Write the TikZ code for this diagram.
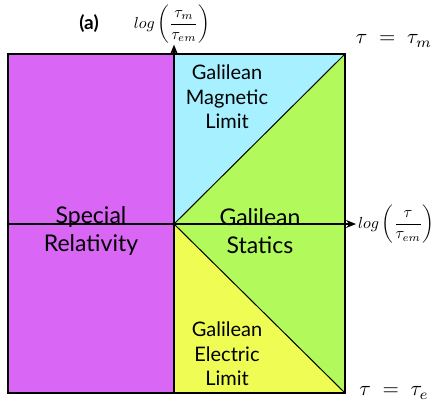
\documentclass[tikz,border=0pt]{standalone}
\usepackage{fontspec}
\setmainfont{Lato}
\usetikzlibrary{arrows.meta, positioning}
\definecolor{relpurple}{RGB}{218,102,246}
\definecolor{magcyan}{RGB}{166,240,255}
\definecolor{statgreen}{RGB}{178,250,92}
\definecolor{elecyellow}{RGB}{238,252,84}

\begin{document}
\begin{tikzpicture}[x=1pt, y=-1pt, >={Stealth[length=10pt,width=8pt]},
  axis/.style={->, line width=2.2pt},
  border/.style={draw=black, line width=1.2pt},
  regiontext/.style={align=center, font=\fontsize{20}{24.5}\selectfont},
  bigtext/.style={align=center, font=\fontsize{23}{28}\selectfont},
  mathlabel/.style={inner sep=0.5pt, scale=1.6},
  taulabel/.style={inner sep=0pt, scale=2.1}]
  \useasboundingbox (0,0) rectangle (436,408);
  % corners and axes
  \coordinate (nw) at (8,54);
  \coordinate (ne) at (345,54);
  \coordinate (sw) at (8,393);
  \coordinate (se) at (345,393);
  \coordinate (o) at (174,224);
  \coordinate (ntop) at (174,54);
  \coordinate (nbot) at (174,393);
  \coordinate (xtip) at (356,224);
  \coordinate (xbase) at (8,224);
  % regions
  \fill[relpurple] (nw) rectangle (nbot);
  \fill[magcyan] (ntop) -- (ne) -- (o) -- cycle;
  \fill[statgreen] (ne) -- (se) -- (o) -- cycle;
  \fill[elecyellow] (o) -- (se) -- (nbot) -- cycle;
  \draw[border] (nw) rectangle (se);
  \draw[line width=1pt] (o) -- (ne);
  \draw[line width=1pt] (o) -- (se);
  % axes and labels
  \node[mathlabel, anchor=north] (ylab) at (172,4) {$\displaystyle log\,\biggl(\frac{\tau_m}{\tau_{em}}\biggr)$};
  \node[mathlabel, right=1pt of xtip] (xlab) {$\displaystyle log\,\biggl(\frac{\tau}{\tau_{em}}\biggr)$};
  \draw[axis] (nbot) -- (nbot |- ylab.south);
  \draw[axis] (xbase) -- (xtip);
  \node[taulabel] (taum) at (394,41) {$\tau\;=\;\tau_m$};
  \node[taulabel] (taue) at (394,393) {$\tau\;=\;\tau_e$};
  \node[font=\fontsize{19}{20}\selectfont\bfseries] (tag) at (89,24) {(a)};
  % region names
  \node[bigtext] (special) at (91,231) {Special\\Relativity};
  \node[bigtext] (statics) at (260,231) {Galilean\\Statics};
  \node[regiontext] (magnetic) at (227,97) {Galilean\\Magnetic\\Limit};
  \node[regiontext] (electric) at (227,354) {Galilean\\Electric\\Limit};
\end{tikzpicture}
\end{document}
